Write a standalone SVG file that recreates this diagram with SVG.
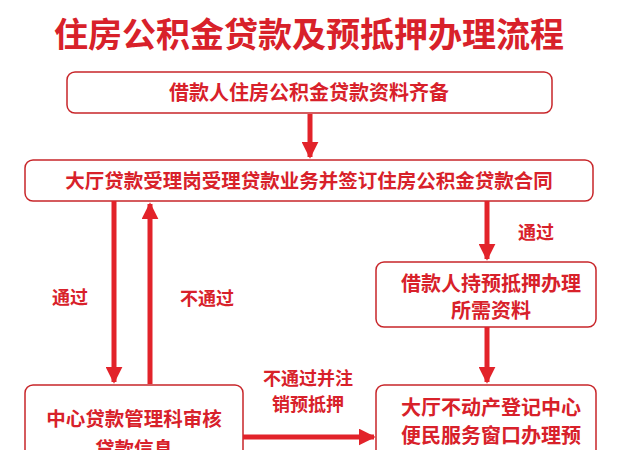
<svg xmlns="http://www.w3.org/2000/svg" width="618" height="450" viewBox="0 0 618 450">
<style>
.b{fill:#fff;stroke:#c8262a;stroke-width:1.5}
.t{font-family:"Noto Sans CJK SC",sans-serif;font-weight:bold;fill:#d8212a;text-anchor:middle}
.l{stroke:#e2232a;stroke-width:5;fill:none}
</style>
<defs><marker id="a" viewBox="0 0 10 10" refX="9" refY="5" markerWidth="3.4" markerHeight="3.4" orient="auto" markerUnits="strokeWidth"><path d="M0,0L10,5L0,10z" fill="#e2232a"/></marker></defs>
<rect width="618" height="450" fill="#fff"/>
<text class="t" x="309" y="47" font-size="34">住房公积金贷款及预抵押办理流程</text>
<g id="n1"><rect class="b" x="67" y="72" width="485" height="41" rx="8"/><text class="t" x="309" y="100" font-size="20">借款人住房公积金贷款资料齐备</text></g>
<g id="n2"><rect class="b" x="25" y="160" width="568" height="41" rx="8"/><text class="t" x="309" y="188" font-size="19.5">大厅贷款受理岗受理贷款业务并签订住房公积金贷款合同</text></g>
<g id="n3"><rect class="b" x="25" y="385" width="218" height="80" rx="8"/><text class="t" x="134" y="426" font-size="19.5">中心贷款管理科审核</text><text class="t" x="134" y="456" font-size="19.5">贷款信息</text></g>
<g id="n4"><rect class="b" x="376" y="262" width="220" height="65" rx="8"/><text class="t" x="491" y="291" font-size="20">借款人持预抵押办理</text><text class="t" x="491" y="318" font-size="20">所需资料</text></g>
<g id="n5"><rect class="b" x="376" y="385" width="220" height="80" rx="8"/><text class="t" x="491" y="415" font-size="20">大厅不动产登记中心</text><text class="t" x="491" y="443" font-size="20">便民服务窗口办理预</text></g>
<g id="connectors">
<line class="l" x1="310" y1="114" x2="310" y2="157" marker-end="url(#a)"/>
<line class="l" x1="114" y1="201" x2="114" y2="382" marker-end="url(#a)"/>
<line class="l" x1="150" y1="384" x2="150" y2="204" marker-end="url(#a)"/>
<line class="l" x1="487" y1="201" x2="487" y2="259" marker-end="url(#a)"/>
<line class="l" x1="487" y1="327" x2="487" y2="382" marker-end="url(#a)"/>
<line class="l" x1="243" y1="437" x2="374" y2="437" marker-end="url(#a)"/>
<text class="t" x="70" y="304" font-size="18">通过</text>
<text class="t" x="207" y="305" font-size="18">不通过</text>
<text class="t" x="536" y="239" font-size="18">通过</text>
<text class="t" x="308" y="385" font-size="18">不通过并注</text>
<text class="t" x="308" y="411" font-size="18">销预抵押</text>
</g>
</svg>
